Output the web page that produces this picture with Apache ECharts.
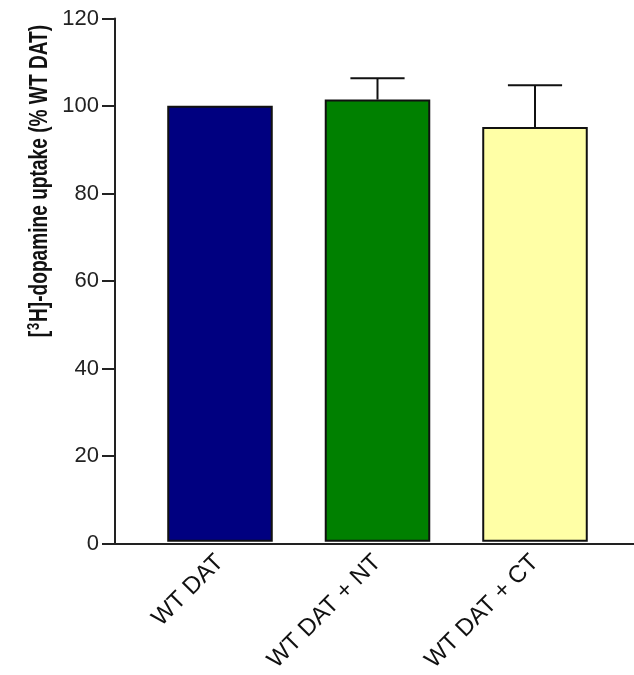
<!DOCTYPE html>
<html><head><meta charset="utf-8">
<script src="https://cdn.jsdelivr.net/npm/echarts@6/dist/echarts.min.js"></script>
<style>html,body{margin:0;padding:0;background:#fff}#c{width:634px;height:675px}</style>
</head><body><div id="c"></div>
<script>
var categories = ['WT DAT', 'WT DAT + NT', 'WT DAT + CT'];
var values = [100, 101.4, 95.1];
var errorTop = [null, 106.3, 104.7];
var barColors = ['#000080', '#008000', '#ffffa6'];
var yTicks = [0, 20, 40, 60, 80, 100, 120];

var FONT = 'Arial, "Liberation Sans", sans-serif';
var chart = echarts.init(document.getElementById('c'), null, {renderer: 'canvas'});
var option = {
  animation: false,
  backgroundColor: '#fff',
  grid: [
    {left: 115, right: 0, top: 18.5, bottom: 131.5},
    {left: 141.25, right: 20.25, top: 18.5, bottom: 131.5}
  ],
  xAxis: [
    {gridIndex: 0, type: 'value', min: 0, max: 1,
     axisLine: {show: true, lineStyle: {color: '#222', width: 2}},
     axisTick: {show: false}, axisLabel: {show: false}, splitLine: {show: false}},
    {gridIndex: 1, type: 'category', data: categories,
     axisLine: {show: false}, axisTick: {show: false}, splitLine: {show: false},
     axisLabel: {rotate: 45, fontSize: 24, fontFamily: FONT, color: '#111', margin: 17, interval: 0}}
  ],
  yAxis: [
    {gridIndex: 0, type: 'value', min: yTicks[0], max: yTicks[yTicks.length - 1], interval: 20,
     axisLine: {show: true, lineStyle: {color: '#222', width: 2}},
     axisTick: {show: true, length: 13, lineStyle: {color: '#222', width: 2}},
     axisLabel: {fontSize: 22, fontFamily: FONT, color: '#222', margin: 16},
     splitLine: {show: false}},
    {gridIndex: 1, type: 'value', min: 0, max: 120, show: false}
  ],
  graphic: [{
    type: 'text', x: 40, y: 181, rotation: Math.PI / 2, scaleX: 0.765,
    style: {
      text: '[{sup|3}H]-dopamine uptake (% WT DAT)',
      rich: {sup: {fontSize: 17, fontWeight: 'bold', fontFamily: FONT, verticalAlign: 'top', padding: [0, 1, 12, 1]}},
      fontSize: 25, fontWeight: 'bold', fontFamily: FONT, fill: '#111',
      align: 'center', verticalAlign: 'middle'
    }
  }],
  series: [
    {type: 'bar', xAxisIndex: 1, yAxisIndex: 1, barWidth: '67%',
     data: values.map(function (v, i) {
       return {value: v, itemStyle: {color: barColors[i], borderColor: '#111', borderWidth: 2}};
     }), z: 2},
    {type: 'custom', xAxisIndex: 1, yAxisIndex: 1, z: 3,
     data: errorTop.map(function (e, i) { return [i, values[i], e]; }).filter(function (d) { return d[2] != null; }),
     renderItem: function (params, api) {
       var x = api.value(0);
       var p0 = api.coord([x, api.value(1)]);
       var p1 = api.coord([x, api.value(2)]);
       var half = api.size([1, 0])[0] * 0.172;
       var st = {stroke: '#111', lineWidth: 2};
       return {type: 'group', children: [
         {type: 'line', shape: {x1: p0[0], y1: p0[1], x2: p1[0], y2: p1[1]}, style: st},
         {type: 'line', shape: {x1: p1[0] - half, y1: p1[1], x2: p1[0] + half, y2: p1[1]}, style: st}
       ]};
     }}
  ]
};
chart.setOption(option);
</script></body></html>
